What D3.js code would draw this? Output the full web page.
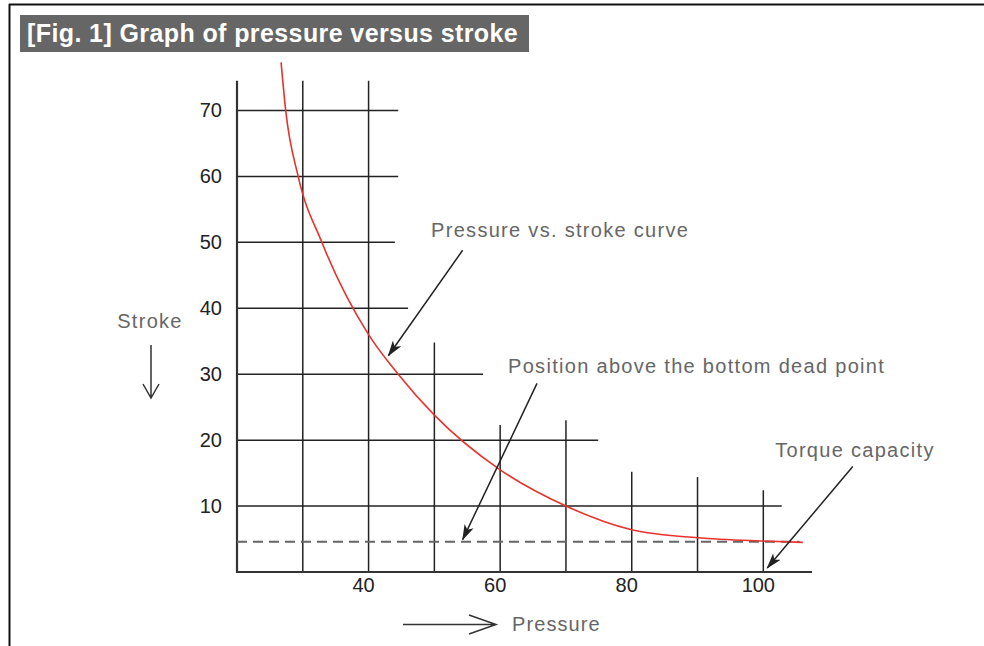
<!DOCTYPE html>
<html>
<head>
<meta charset="utf-8">
<script src="https://cdn.jsdelivr.net/npm/d3@7"></script>
<style>
  html, body { margin: 0; padding: 0; background: #fff; }
  svg { display: block; }
  text { font-family: "Liberation Sans", Arial, Helvetica, sans-serif; }
</style>
</head>
<body>
<svg id="chart" width="984" height="646"></svg>
<script>
// Pressure (x) vs. stroke (y)
const curvePressure = [26.7, 27.4, 29.3, 32.9, 40, 44.5, 50, 60, 70, 80, 90, 100, 106];
const curveStroke   = [77.3, 70, 60, 50, 36, 30, 23.8, 15.5, 10, 6.4, 5.2, 4.7, 4.5];

// Bottom dead point level (dashed)
const deadPointStroke = 4.6;

// Tick labels
const pressureTicks = [40, 60, 80, 100];
const strokeTicks = [10, 20, 30, 40, 50, 60, 70];

// Grid: horizontal lines at each stroke value and how far right they reach
const gridStroke = [10, 20, 30, 40, 50, 60, 70];
const gridStrokeEnd = [102.8, 74.9, 57.4, 46, 44, 44.5, 44.5];
// Grid: vertical lines at each pressure value and how high they reach
const gridPressure = [30, 40, 50, 60, 70, 80, 90, 100];
const gridPressureTop = [74.5, 74.5, 34.8, 22.3, 23, 15.2, 14.4, 12.4];

// Callouts: text anchor and arrow from -> to, in data units
const calloutText = ["Pressure vs. stroke curve", "Position above the bottom dead point", "Torque capacity"];
const calloutTextAt = [[49.5, 50.8], [61.2, 30.2], [101.8, 17.4]];
const calloutFrom = [[54.3, 48.8], [65.6, 28.6], [113.6, 16.0]];
const calloutTo = [[43.0, 32.8], [54.3, 4.9], [100.6, 0.6]];

const svg = d3.select("#chart");

const x = d3.scaleLinear().domain([20, 107.4]).range([237, 812]);
const y = d3.scaleLinear().domain([0, 77.5]).range([572, 61]);

// Page frame
svg.append("line").attr("x1", 9).attr("x2", 984).attr("y1", 4.5).attr("y2", 4.5)
  .attr("stroke", "#111").attr("stroke-width", 2.2);
svg.append("line").attr("x1", 9.5).attr("x2", 9.5).attr("y1", 4).attr("y2", 646)
  .attr("stroke", "#111").attr("stroke-width", 2);

// Title block
svg.append("rect").attr("x", 20).attr("y", 15).attr("width", 509).attr("height", 37).attr("fill", "#666");
svg.append("text").attr("x", 27).attr("y", 42)
  .attr("fill", "#fff").attr("font-size", 25).attr("font-weight", "bold")
  .attr("letter-spacing", 0.4)
  .text("[Fig. 1] Graph of pressure versus stroke");

const defs = svg.append("defs");
defs.append("marker").attr("id", "head")
  .attr("viewBox", "0 0 16 10").attr("refX", 15).attr("refY", 5)
  .attr("markerWidth", 16).attr("markerHeight", 10).attr("markerUnits", "userSpaceOnUse")
  .attr("orient", "auto")
  .append("path").attr("d", "M0,0 L16,5 L0,10 L4,5 Z").attr("fill", "#222");

// Grid
const grid = svg.append("g").attr("stroke", "#222").attr("stroke-width", 1.5);
grid.selectAll("line.h").data(gridStroke).join("line").attr("class", "h")
  .attr("x1", x(20)).attr("x2", (d, i) => x(gridStrokeEnd[i]))
  .attr("y1", d => y(d)).attr("y2", d => y(d));
grid.selectAll("line.v").data(gridPressure).join("line").attr("class", "v")
  .attr("x1", d => x(d)).attr("x2", d => x(d))
  .attr("y1", y(0)).attr("y2", (d, i) => y(gridPressureTop[i]));

// Axes lines
svg.append("line").attr("x1", x(20)).attr("x2", x(20)).attr("y1", y(0) + 1).attr("y2", y(74.5))
  .attr("stroke", "#333").attr("stroke-width", 2.2);
svg.append("line").attr("x1", x(20) - 1).attr("x2", x(107.4)).attr("y1", y(0)).attr("y2", y(0))
  .attr("stroke", "#333").attr("stroke-width", 2.2);

// Dashed bottom dead point line
svg.append("line").attr("x1", x(20)).attr("x2", x(105.5))
  .attr("y1", y(deadPointStroke)).attr("y2", y(deadPointStroke))
  .attr("stroke", "#666").attr("stroke-width", 2).attr("stroke-dasharray", "10,6");

// Pressure vs. stroke curve
const line = d3.line().x(d => x(d[0])).y(d => y(d[1])).curve(d3.curveMonotoneX);
svg.append("path").datum(d3.zip(curvePressure, curveStroke))
  .attr("d", line).attr("fill", "none").attr("stroke", "#e8322c").attr("stroke-width", 1.6);

// Tick labels
svg.selectAll("text.xt").data(pressureTicks).join("text").attr("class", "xt")
  .attr("x", d => x(d) - 5).attr("y", y(0) + 20).attr("text-anchor", "middle")
  .attr("font-size", 20).attr("fill", "#222").text(d => d);
svg.selectAll("text.yt").data(strokeTicks).join("text").attr("class", "yt")
  .attr("x", x(20) - 15).attr("y", d => y(d) + 7).attr("text-anchor", "end")
  .attr("font-size", 20).attr("fill", "#222").text(d => d);

// Axis titles with direction arrows
svg.append("text").attr("x", 150).attr("y", 328).attr("text-anchor", "middle")
  .attr("font-size", 20).attr("letter-spacing", 1.3).attr("fill", "#666").text("Stroke");
svg.append("path").attr("d", "M151,345 L151,398 M143,384 L151,398 L159,384")
  .attr("fill", "none").attr("stroke", "#333").attr("stroke-width", 1.5);
svg.append("text").attr("x", 512).attr("y", 631)
  .attr("font-size", 20).attr("letter-spacing", 1.1).attr("fill", "#666").text("Pressure");
svg.append("path").attr("d", "M403,624.5 L496,624.5 M469,615 L496,624.5 L469,634")
  .attr("fill", "none").attr("stroke", "#333").attr("stroke-width", 1.5);

// Callouts
svg.selectAll("text.callout").data(calloutText).join("text").attr("class", "callout")
  .attr("x", (d, i) => x(calloutTextAt[i][0])).attr("y", (d, i) => y(calloutTextAt[i][1]))
  .attr("font-size", 20).attr("letter-spacing", 1.3).attr("fill", "#666").text(d => d);
svg.selectAll("line.arrow").data(calloutFrom).join("line").attr("class", "arrow")
  .attr("x1", d => x(d[0])).attr("y1", d => y(d[1]))
  .attr("x2", (d, i) => x(calloutTo[i][0])).attr("y2", (d, i) => y(calloutTo[i][1]))
  .attr("stroke", "#222").attr("stroke-width", 1.5).attr("marker-end", "url(#head)");
</script>
</body>
</html>
